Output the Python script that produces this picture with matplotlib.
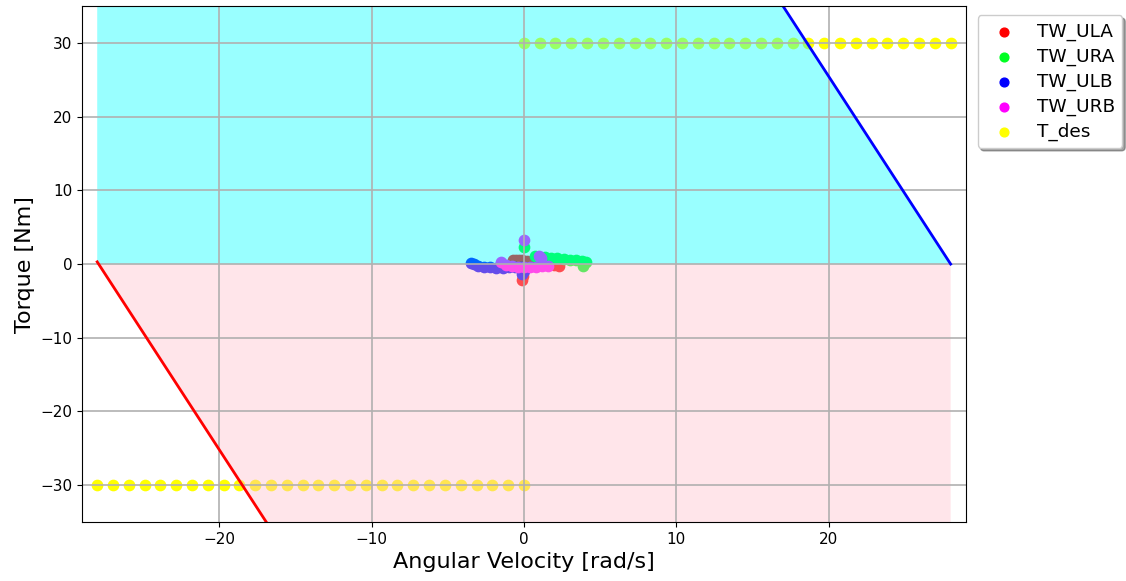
import matplotlib
matplotlib.use("Agg")
import matplotlib.pyplot as plt

# Actuator data (angular velocity [rad/s], torque [Nm])
ula_w = [-0.1, -0.05, -0.7, -0.5, -0.3, -0.1, 0.2, 0.6, 1.1, 1.6, 2.0, 2.3]
ula_T = [-2.2, -1.6, 0.5, 0.6, 0.6, 0.55, 0.45, 0.3, 0.1, -0.05, -0.15, -0.2]

ura_w = [0.0, 0.7, 1.0, 1.4, 1.8, 2.2, 2.6, 3.0, 3.4, 3.8, 4.1, 3.9]
ura_T = [2.3, 1.1, 1.0, 0.9, 0.85, 0.8, 0.7, 0.6, 0.5, 0.4, 0.3, -0.2]

ulb_w = [-3.5, -3.3, -3.0, -2.6, -2.2, -1.8, -1.4, -1.0, -0.6, -0.2, 0.0, -0.1]
ulb_T = [0.2, -0.05, -0.25, -0.4, -0.45, -0.5, -0.5, -0.45, -0.4, -0.35, -1.0, -1.4]

urb_w = [-1.5, -1.2, -0.8, -0.4, 0.0, 0.4, 0.8, 1.2, 1.6, 1.1, 1.0, 0.0]
urb_T = [0.3, -0.15, -0.3, -0.35, -0.4, -0.4, -0.35, -0.3, -0.3, 0.8, 1.05, 3.3]

tdes_w = [-28.0, -26.96, -25.93, -24.89, -23.85, -22.81, -21.78, -20.74, -19.70,
          -18.67, -17.63, -16.59, -15.56, -14.52, -13.48, -12.44, -11.41, -10.37,
          -9.33, -8.30, -7.26, -6.22, -5.19, -4.15, -3.11, -2.07, -1.04, 0.0,
          0.0, 1.04, 2.07, 3.11, 4.15, 5.19, 6.22, 7.26, 8.30, 9.33, 10.37, 11.41,
          12.44, 13.48, 14.52, 15.56, 16.59, 17.63, 18.67, 19.70, 20.74, 21.78,
          22.81, 23.85, 24.89, 25.93, 26.96, 28.0]
tdes_T = [-30] * 28 + [30] * 28

# Motor limit lines
pos_lim_w = [-28.0, 28.0]
pos_lim_T = [178.2, 0.0]
neg_lim_w = [-28.0, 28.0]
neg_lim_T = [0.3, -177.9]
neg_fill_T = [0.0, -177.9]

fig = plt.figure(figsize=(11.26, 5.81), dpi=100)
ax = fig.add_axes([0.0728, 0.1015, 0.785, 0.888])

ax.scatter(ula_w, ula_T, color="#ff0000", s=55, label="TW_ULA")
ax.scatter(ura_w, ura_T, color="#00ff22", s=55, label="TW_URA")
ax.scatter(ulb_w, ulb_T, color="#0000ff", s=55, label="TW_ULB")
ax.scatter(urb_w, urb_T, color="#ff00ff", s=55, label="TW_URB")
ax.scatter(tdes_w, tdes_T, color="#ffff00", s=55, label="T_des")

ax.fill_between(pos_lim_w, [0, 0], pos_lim_T, color="cyan", alpha=0.4, linewidth=0)
ax.fill_between(neg_lim_w, [0, 0], neg_fill_T, color="pink", alpha=0.4, linewidth=0)

ax.plot(pos_lim_w, pos_lim_T, color="blue", linewidth=2)
ax.plot(neg_lim_w, neg_lim_T, color="red", linewidth=2)

ax.set_xlim(-29, 29)
ax.set_ylim(-35, 35)
ax.set_xticks([-20, -10, 0, 10, 20])
ax.set_yticks([-30, -20, -10, 0, 10, 20, 30])
ax.grid(True, color="#b0b0b0", linewidth=1.2)
ax.tick_params(labelsize=11)
ax.set_xlabel("Angular Velocity [rad/s]", fontsize=16)
ax.set_ylabel("Torque [Nm]", fontsize=16)

ax.legend(loc="upper left", bbox_to_anchor=(1.003, 1.0), fontsize=13.3, shadow=True,
          framealpha=1, borderaxespad=0.5, labelspacing=0.36, markerscale=0.85)

fig.savefig("out.png", dpi=100)
